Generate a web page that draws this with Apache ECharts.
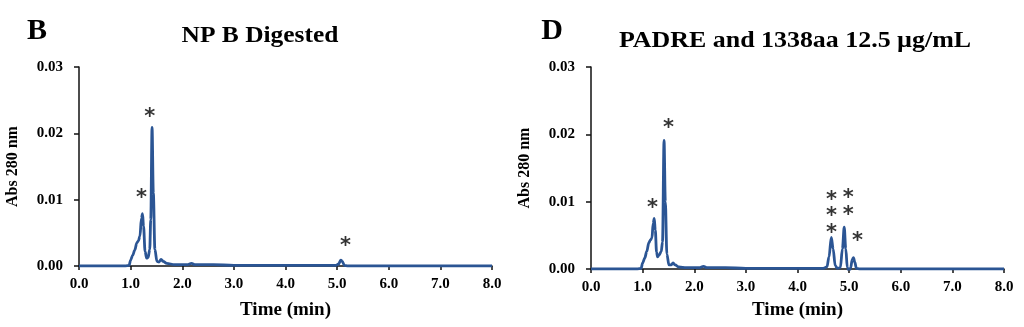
<!DOCTYPE html>
<html>
<head>
<meta charset="utf-8">
<script src="https://cdn.jsdelivr.net/npm/echarts@6/dist/echarts.min.js"></script>
<style>
html,body{margin:0;padding:0;background:#fff;}
#c{width:1024px;height:327px;}
</style>
</head>
<body>
<div id="c"></div>
<script>
// ---- data ----
var panelLetters = ['B', 'D'];
var panelTitles = ['NP B Digested', 'PADRE and 1338aa 12.5 \u00b5g/mL'];
var xTicks = [0, 1, 2, 3, 4, 5, 6, 7, 8];
var yTicks = [0, 0.01, 0.02, 0.03];
var xName = 'Time (min)';
var yName = 'Abs 280 nm';

// Panel B trace [time (min), absorbance]
var traceB = [
  [0,0],[0.9,0],[0.97,0.0001],[1.0,0.0009],[1.04,0.0016],[1.08,0.0024],[1.12,0.0035],[1.15,0.0038],
  [1.18,0.0045],[1.21,0.0072],[1.23,0.0079],[1.25,0.0060],[1.28,0.0022],[1.31,0.0012],[1.34,0.0013],
  [1.37,0.0025],[1.39,0.0070],[1.415,0.0209],[1.44,0.0110],[1.47,0.0025],[1.51,0.0007],[1.55,0.0006],
  [1.59,0.0010],[1.63,0.0007],[1.7,0.0004],[1.85,0.0002],[2.1,0.0002],[2.18,0.0004],[2.24,0.0002],
  [2.6,0.0002],[3.0,0.0001],[3.5,0.0001],[4.0,0.0001],[4.6,0.0001],[4.98,0.0001],[5.03,0.0003],
  [5.07,0.0009],[5.1,0.0007],[5.14,0.0001],[5.2,0],[6,0],[7,0],[8,0]
];
// Panel D trace
var traceD = [
  [0,0],[0.9,0],[0.97,0.0001],[1.0,0.0009],[1.04,0.0016],[1.08,0.0026],[1.12,0.0039],[1.15,0.0043],
  [1.18,0.0046],[1.205,0.0068],[1.225,0.0075],[1.245,0.0058],[1.27,0.0025],[1.29,0.0018],[1.32,0.0021],
  [1.36,0.0026],[1.385,0.0040],[1.415,0.0191],[1.44,0.0100],[1.47,0.0022],[1.51,0.0006],[1.55,0.0006],
  [1.59,0.0009],[1.63,0.0006],[1.7,0.0003],[1.85,0.0002],[2.1,0.0002],[2.18,0.0004],[2.24,0.0002],
  [2.6,0.0002],[3.0,0.0001],[3.5,0.0001],[4.0,0.0001],[4.5,0.0001],[4.57,0.0003],[4.61,0.0018],
  [4.655,0.0047],[4.69,0.0030],[4.73,0.0005],[4.77,0.0001],[4.83,0.0002],[4.87,0.0030],[4.905,0.0062],
  [4.935,0.0030],[4.965,0.0002],[5.0,-0.0004],[5.03,0.0002],[5.06,0.0014],[5.085,0.0017],[5.11,0.0010],
  [5.14,0.0001],[5.2,0],[6,0],[7,0],[8,0]
];
// asterisk annotations [time, absorbance]
var marksB = [[1.37,0.0230],[1.21,0.0107],[5.16,0.0035]];
var marksD = [[1.50,0.0214],[1.19,0.0095],[4.66,0.0108],[4.66,0.0084],[4.66,0.0058],[4.985,0.0111],[4.985,0.0085],[5.16,0.0046]];

// ---- chart ----
var serif = '"Liberation Serif","Times New Roman",serif';
var grids = [
  {left:79, right:532, top:67, bottom:61},
  {left:591, right:20, top:67, bottom:58}
];
var xNameGaps = [35, 32];
function xAxis(i){
  return {
    type:'value', gridIndex:i, min:xTicks[0], max:xTicks[xTicks.length-1], interval:1,
    name:xName, nameLocation:'middle', nameGap:xNameGaps[i],
    nameTextStyle:{fontFamily:serif, fontWeight:'bold', fontSize:19, color:'#000'},
    axisLine:{show:true, onZero:false, lineStyle:{color:'#111', width:1.5}},
    axisTick:{show:true, length:4, lineStyle:{color:'#111', width:1.5}},
    axisLabel:{fontFamily:serif, fontWeight:'bold', fontSize:15, color:'#000', margin:11,
      formatter:function(v){return v.toFixed(1);}},
    splitLine:{show:false}
  };
}
function yAxis(i){
  return {
    type:'value', gridIndex:i, min:yTicks[0], max:yTicks[yTicks.length-1], interval:0.01,
    name:yName, nameLocation:'middle', nameGap:58, nameRotate:90,
    nameTextStyle:{fontFamily:serif, fontWeight:'bold', fontSize:16, color:'#000'},
    axisLine:{show:true, lineStyle:{color:'#111', width:1.5}},
    axisTick:{show:true, length:5, lineStyle:{color:'#111', width:1.5}},
    axisLabel:{fontFamily:serif, fontWeight:'bold', fontSize:15, color:'#000', margin:16,
      formatter:function(v){return v.toFixed(2);}},
    splitLine:{show:false}
  };
}
function trace(i, data){
  return {type:'line', xAxisIndex:i, yAxisIndex:i, data:data, showSymbol:false, symbol:'none',
    smooth:0.35, smoothMonotone:'x', lineStyle:{color:'#2b5594', width:2.8}, z:3, silent:true};
}
function stars(i, data){
  return {type:'scatter', xAxisIndex:i, yAxisIndex:i, data:data, symbolSize:0, silent:true, z:5,
    label:{show:true, position:'inside', formatter:'*', fontFamily:'"DejaVu Sans",sans-serif', fontWeight:'bold',
      fontSize:21, color:'#000', offset:[0,4]}};
}
var chart = echarts.init(document.getElementById('c'), null, {renderer:'canvas'});
chart.setOption({
  backgroundColor:'#fff',
  animation:false,
  grid:grids,
  xAxis:[xAxis(0), xAxis(1)],
  yAxis:[yAxis(0), yAxis(1)],
  series:[trace(0, traceB), trace(1, traceD), stars(0, marksB), stars(1, marksD)],
  graphic:[
    {type:'text', x:37, y:31, style:{text:panelLetters[0], font:'bold 30px '+serif, fill:'#000', align:'center', verticalAlign:'middle'}},
    {type:'text', x:260, y:36, scaleX:1.06, style:{text:panelTitles[0], font:'bold 24px '+serif, fill:'#000', align:'center', verticalAlign:'middle'}},
    {type:'text', x:552, y:31, style:{text:panelLetters[1], font:'bold 30px '+serif, fill:'#000', align:'center', verticalAlign:'middle'}},
    {type:'text', x:795, y:41, scaleX:1.08, style:{text:panelTitles[1], font:'bold 24px '+serif, fill:'#000', align:'center', verticalAlign:'middle'}}
  ]
});
</script>
</body>
</html>
